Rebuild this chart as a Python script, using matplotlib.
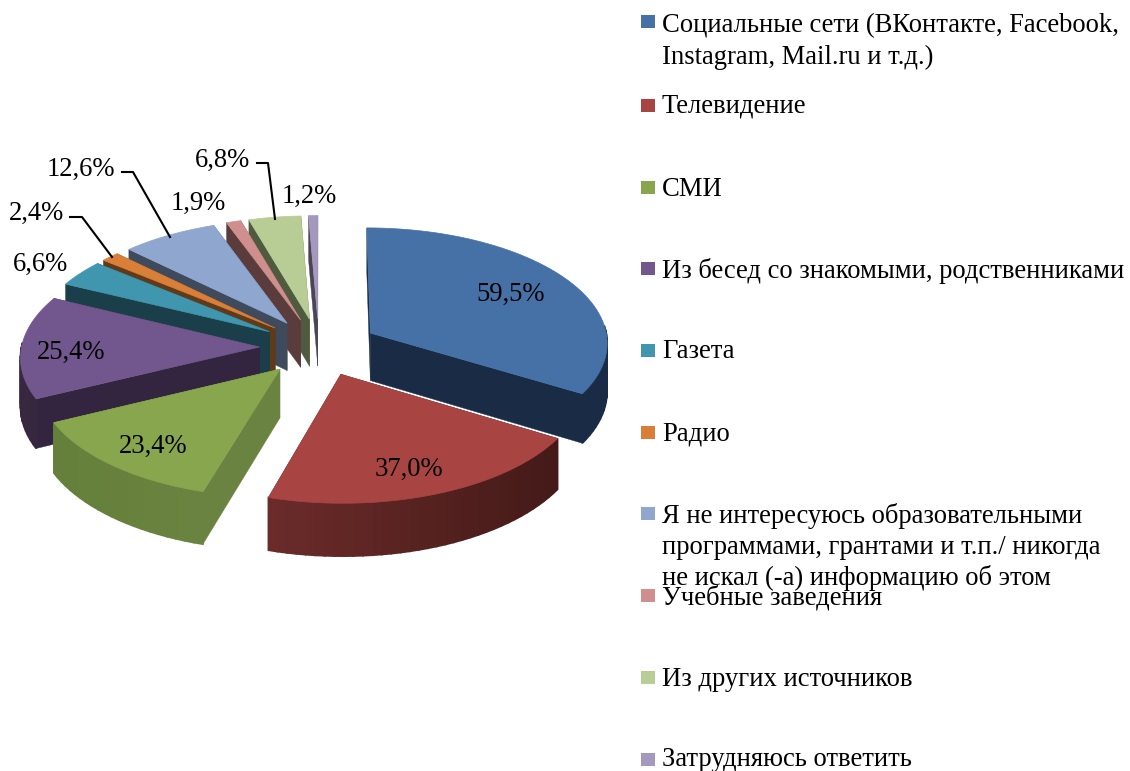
import numpy as np
import matplotlib
matplotlib.use("Agg")
import matplotlib.pyplot as plt
from matplotlib.patches import Polygon, Rectangle

plt.rcParams['font.family'] = ['Liberation Serif', 'DejaVu Serif']

values = [59.5, 37.0, 23.4, 25.4, 6.6, 2.4, 12.6, 1.9, 6.8, 1.2]
value_labels = ['59,5%', '37,0%', '23,4%', '25,4%', '6,6%', '2,4%', '12,6%', '1,9%', '6,8%', '1,2%']
legend_rows = [
    ['Социальные сети (ВКонтакте, Facebook,', 'Instagram, Mail.ru и т.д.)'],
    ['Телевидение'],
    ['СМИ'],
    ['Из бесед со знакомыми, родственниками'],
    ['Газета'],
    ['Радио'],
    ['Я не интересуюсь образовательными', 'программами, грантами и т.п./ никогда', 'не искал (-а) информацию об этом'],
    ['Учебные заведения'],
    ['Из других источников'],
    ['Затрудняюсь ответить'],
]

top_colors = ['#4571a6', '#a84543', '#88a64d', '#71578d', '#3f96ae', '#d97f38',
              '#8fa6cf', '#cf8f8e', '#b8cc95', '#a598bd']
wall_left = ['#1a2c45', '#6c2c2a', '#64803a', '#38283f', '#1a3f4a', '#5f3a1b',
             '#3f4a5c', '#5a3c3c', '#4f5a3f', '#4a4458']
wall_right = ['#1a2c45', '#441a18', '#6b8340', '#33243f', '#1a3f4a', '#5f3a1b',
              '#3f4a5c', '#5a3c3c', '#4f5a3f', '#4a4458']

# legend rows
marker_y = [21, 105, 187, 268, 350, 432, 513, 595, 677, 759]
first_row_y = [26, 106, 189, 271, 352, 434, 516, 598, 680, 760]
row_step = 31

# pie geometry, pixels
cx, cy = 319, 347
rx, ry = 238, 115
explode = 0.25
persp = 0.075
depth = 48

# percent labels (centres) and leader lines
label_pos = [(511, 294), (409, 469), (153, 446), (71, 352), (40, 264),
             (36, 213), (81, 169), (198, 203), (222, 160), (309, 196)]
leaders = {5: [(70, 217), (82, 217), (112, 257)],
           6: [(122, 172), (133, 172), (170, 237)],
           8: [(257, 163), (268, 163), (275, 219)]}


def proj(X, Y, z=0.0):
    s = 1 / (1 - persp * Y)
    return cx + rx * X * s, cy + ry * Y * s + depth * z * s


def mix(a, b, t):
    a = np.array(matplotlib.colors.to_rgb(a))
    b = np.array(matplotlib.colors.to_rgb(b))
    return a + (b - a) * t


fig = plt.figure(figsize=(11.3, 7.71), dpi=100)
ax = fig.add_axes([0, 0, 1, 1])
ax.set_xlim(0, 1130)
ax.set_ylim(771, 0)
ax.axis('off')

total = sum(values)
edges = np.cumsum([0] + values) / total * 2 * np.pi
mids = (edges[:-1] + edges[1:]) / 2

# back slices first
order = sorted(range(len(values)), key=lambda i: -np.cos(mids[i]))

for i in order:
    ox = explode * np.sin(mids[i])
    oy = -explode * np.cos(mids[i])
    t = np.linspace(edges[i], edges[i + 1], max(4, int(np.degrees(edges[i + 1] - edges[i])) // 2))
    X = ox + np.sin(t)
    Y = oy - np.cos(t)

    # cut faces
    for k in (0, -1):
        quad = [proj(ox, oy), proj(X[k], Y[k]), proj(X[k], Y[k], 1), proj(ox, oy, 1)]
        c = wall_right[i]
        ax.add_patch(Polygon(quad, closed=True, fc=c, ec=c, lw=0.3, zorder=1))

    # outer wall, shaded along the arc, only the part facing us
    xs_px = proj(X, Y)[0]
    lo, hi = xs_px.min(), xs_px.max()
    for j in range(len(t) - 1):
        if -np.cos((t[j] + t[j + 1]) / 2) < -0.05:
            continue
        quad = [proj(X[j], Y[j]), proj(X[j + 1], Y[j + 1]),
                proj(X[j + 1], Y[j + 1], 1), proj(X[j], Y[j], 1)]
        c = mix(wall_left[i], wall_right[i], (xs_px[j] - lo) / (hi - lo + 1e-6))
        ax.add_patch(Polygon(quad, closed=True, fc=c, ec=c, lw=1.2, zorder=1))

    # top face
    px, py = proj(X, Y)
    ax0, ay0 = proj(ox, oy)
    face = [(ax0, ay0)] + list(zip(px, py))
    ax.add_patch(Polygon(face, closed=True, fc=top_colors[i], ec=top_colors[i], lw=0.5, zorder=1))

for i, (x, y) in enumerate(label_pos):
    ax.text(x, y, value_labels[i], fontsize=19.2, ha='center', va='center', color='black', zorder=5)

for pts in leaders.values():
    ax.plot([p[0] for p in pts], [p[1] for p in pts], color='black', lw=1.5, zorder=4)

# legend
for i, rows in enumerate(legend_rows):
    ax.add_patch(Rectangle((641, marker_y[i] - 6.5), 14, 13, fc=top_colors[i], ec='none'))
    for j, row in enumerate(rows):
        ax.text(662, first_row_y[i] + j * row_step, row, fontsize=19.2, ha='left', va='center', color='black')

fig.savefig('out.png', dpi=100)
